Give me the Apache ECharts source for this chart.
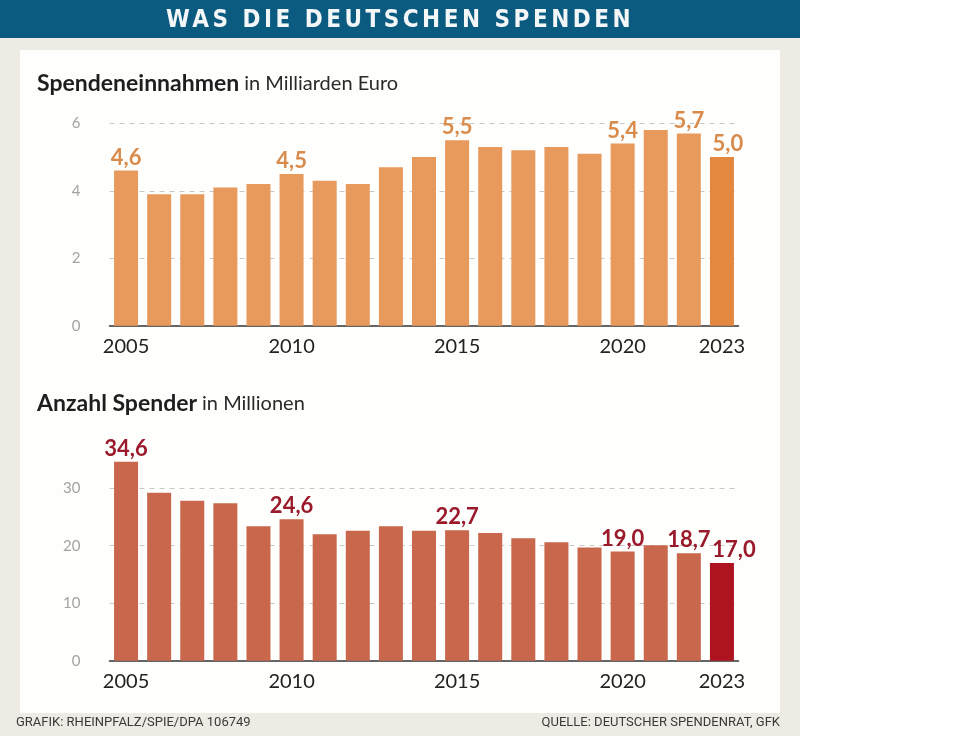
<!DOCTYPE html>
<html>
<head>
<meta charset="utf-8">
<script src="https://cdn.jsdelivr.net/npm/echarts@6/dist/echarts.min.js"></script>
<style>
  body { margin: 0; background: #ffffff; }
  #wrap { position: relative; width: 968px; height: 736px; }
  #chart { width: 968px; height: 736px; }
  /* Titelzeile als HTML, damit Sperrung (letter-spacing) geht */
  #headline {
    position: absolute; left: 0; top: 0; width: 800px; height: 38px;
    line-height: 38px; text-align: center; color: #f4f7f8;
    font-family: "Liberation Sans Narrow", "DejaVu Sans Condensed", Roboto, sans-serif;
    font-weight: bold; font-size: 24px; letter-spacing: 3.5px;
  }
</style>
</head>
<body>
<div id="wrap">
  <div id="chart"></div>
  <div id="headline">WAS DIE DEUTSCHEN SPENDEN</div>
</div>
<script>
// Jahre 2005 - 2023
const years = ["2005", "2006", "2007", "2008", "2009", "2010", "2011", "2012", "2013", "2014",
  "2015", "2016", "2017", "2018", "2019", "2020", "2021", "2022", "2023"];
// Spendeneinnahmen in Milliarden Euro
const einnahmen = [4.6, 3.9, 3.9, 4.1, 4.2, 4.5, 4.3, 4.2, 4.7, 5.0,
  5.5, 5.3, 5.2, 5.3, 5.1, 5.4, 5.8, 5.7, 5.0];
// Anzahl Spender in Millionen
const spender = [34.6, 29.2, 27.8, 27.4, 23.4, 24.6, 22.0, 22.6, 23.4, 22.6,
  22.7, 22.2, 21.3, 20.6, 19.7, 19.0, 20.1, 18.7, 17.0];
// welche Jahre beschriftet werden
const labeledYears = ["2005", "2010", "2015", "2020", "2022", "2023"];
const axisYears = ["2005", "2010", "2015", "2020", "2023"];
const ticksTop = [0, 2, 4, 6];
const ticksBottom = [0, 10, 20, 30];

const chart = echarts.init(document.getElementById("chart"));
const FONT = "Lato, 'Noto Sans', sans-serif";

function fmt(v) {
  return v.toFixed(1).replace(".", ",");
}

// Datenpunkte mit Beschriftung nur fuer ausgewaehlte Jahre, letztes Jahr hervorgehoben
function buildData(values, barColor, lastColor, labelColor, lastOffset) {
  return values.map((v, i) => {
    const isLast = i === values.length - 1;
    const item = { value: v, itemStyle: { color: isLast ? lastColor : barColor } };
    if (labeledYears.indexOf(years[i]) >= 0) {
      item.label = {
        show: true,
        position: "top",
        distance: 2,
        offset: isLast ? lastOffset : [0, 0],
        formatter: () => fmt(v),
        color: labelColor,
        fontFamily: FONT,
        fontWeight: "bold",
        fontSize: 22
      };
    }
    return item;
  });
}

function xAxisCfg(gridIndex) {
  return {
    type: "category",
    gridIndex: gridIndex,
    data: years,
    axisLine: { show: true, lineStyle: { color: "#333333", width: 1.5 } },
    axisTick: { show: false },
    axisLabel: {
      interval: (idx, val) => axisYears.indexOf(val) >= 0,
      color: "#222222",
      fontFamily: FONT,
      fontSize: 20,
      margin: 11
    }
  };
}

function yAxisCfg(gridIndex, max, interval, ticks) {
  return {
    type: "value",
    gridIndex: gridIndex,
    min: 0,
    max: max,
    interval: interval,
    axisLine: { show: false },
    axisTick: { show: false },
    axisLabel: {
      color: "#a3a3a3",
      fontFamily: FONT,
      fontSize: 15,
      margin: 29,
      showMaxLabel: ticks.indexOf(max) >= 0,
      formatter: (v) => (ticks.indexOf(v) >= 0 ? String(v) : "")
    },
    splitLine: {
      show: true,
      showMinLine: false,
      showMaxLine: ticks.indexOf(max) >= 0,
      lineStyle: { color: "#c8c8c8", type: [5, 5], width: 1 }
    }
  };
}

const subRich = {
  b: { fontFamily: FONT, fontWeight: "bold", fontSize: 23, fill: "#1e1e1e" },
  r: { fontFamily: FONT, fontSize: 20, fill: "#2a2a2a", padding: [0, 0, 0, 5] }
};

const option = {
  animation: false,
  backgroundColor: "#ffffff",
  graphic: [
    { type: "rect", z: -10, shape: { x: 0, y: 0, width: 800, height: 736 }, style: { fill: "#eeebe4" } },
    { type: "rect", z: -9, shape: { x: 0, y: 0, width: 800, height: 38 }, style: { fill: "#0b5a7f" } },
    { type: "rect", z: -8, shape: { x: 20, y: 50, width: 760, height: 663 }, style: { fill: "#fefefc" } },
    {
      type: "text", left: 37, top: 72,
      style: { text: "{b|Spendeneinnahmen}{r|in Milliarden Euro}", rich: subRich }
    },
    {
      type: "text", left: 37, top: 392,
      style: { text: "{b|Anzahl Spender}{r|in Millionen}", rich: subRich }
    },
    {
      type: "text", left: 16, top: 716,
      style: { text: "GRAFIK: RHEINPFALZ/SPIE/DPA 106749", fontFamily: "'Liberation Sans Narrow', Roboto, sans-serif", fontSize: 13, fill: "#3a3a3a" }
    },
    {
      type: "text", right: 968 - 780, top: 716,
      style: { text: "QUELLE: DEUTSCHER SPENDENRAT, GFK", fontFamily: "'Liberation Sans Narrow', Roboto, sans-serif", fontSize: 13, fill: "#3a3a3a", align: "right" }
    }
  ],
  grid: [
    { left: 109.5, width: 629, top: 123.3, height: 202.4 },
    { left: 109.5, width: 629, top: 430.7, height: 230 }
  ],
  xAxis: [xAxisCfg(0), xAxisCfg(1)],
  yAxis: [yAxisCfg(0, 6, 2, ticksTop), yAxisCfg(1, 40, 10, ticksBottom)],
  series: [
    {
      type: "bar",
      xAxisIndex: 0,
      yAxisIndex: 0,
      barWidth: 24,
      data: buildData(einnahmen, "#e8995c", "#e5883f", "#d98b4c", [6, 0])
    },
    {
      type: "bar",
      xAxisIndex: 1,
      yAxisIndex: 1,
      barWidth: 24,
      data: buildData(spender, "#c9674c", "#ad1420", "#9a1a2b", [12, 0])
    }
  ]
};
chart.setOption(option);
</script>
</body>
</html>
